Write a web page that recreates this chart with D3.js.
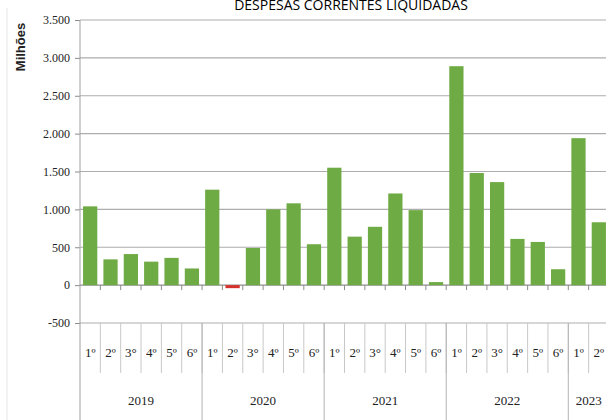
<!DOCTYPE html>
<html>
    <head>
        <title>Despesas correntes liquidadas</title>
        <script src="https://d3js.org/d3.v7.min.js"></script>
    </head>
    <style>
        body {
            margin: 0;
            background: #fff;
        }
    </style>
    <body>
        <div id="chart"></div>

        <script>

            // Data
            const yearLabels = ["2019", "2020", "2021", "2022", "2023"];
            const yearSpans = [6, 6, 6, 6, 2];
            const periodLabels = [
                "1º", "2º", "3°", "4º", "5º", "6º",
                "1º", "2º", "3°", "4º", "5º", "6º",
                "1º", "2º", "3°", "4º", "5º", "6º",
                "1º", "2º", "3°", "4º", "5º", "6º",
                "1º", "2º"
            ];
            const values = [
                1040, 340, 410, 310, 360, 220,
                1260, -40, 490, 1000, 1080, 540,
                1550, 640, 770, 1210, 990, 40,
                2890, 1480, 1360, 610, 570, 210,
                1940, 830
            ];
            const yTicks = [-500, 0, 500, 1000, 1500, 2000, 2500, 3000, 3500];

            const width = 606, height = 420;
            const plotLeft = 80, plotRight = 609, plotTop = 20, plotBottom = 323;

            const svg = d3.select("#chart")
                .append("svg")
                .attr("width", width)
                .attr("height", height);

            const x = d3.scaleBand()
                .domain(d3.range(values.length))
                .range([plotLeft, plotRight])
                .paddingInner(0.3)
                .paddingOuter(0.15);

            const y = d3.scaleLinear()
                .domain([-500, 3500])
                .range([plotBottom, plotTop]);

            // Portuguese number format, plain hyphen for negatives
            const fmt = d3.formatLocale({ decimal: ",", thousands: ".", grouping: [3], currency: ["", ""], minus: "-" }).format(",d");

            // Gridlines
            svg.append("g")
                .selectAll("line")
                .data(yTicks)
                .join("line")
                .attr("x1", plotLeft)
                .attr("x2", width)
                .attr("y1", d => y(d))
                .attr("y2", d => y(d))
                .attr("stroke", d => d === 0 ? "#8c8c8c" : "#adadad")
                .attr("stroke-width", 1.2);

            // Y axis
            const yAxis = svg.append("g")
                .attr("transform", `translate(${plotLeft},0)`)
                .call(d3.axisLeft(y).tickValues(yTicks).tickFormat(fmt).tickSize(5).tickPadding(5));
            yAxis.select(".domain").remove();
            yAxis.selectAll(".tick line").attr("stroke", "#8c8c8c");
            yAxis.selectAll("text")
                .attr("font-family", "Liberation Serif, serif")
                .attr("font-size", 12)
                .attr("fill", "#222");

            // Left axis line runs down through the category area
            svg.append("line")
                .attr("x1", plotLeft).attr("x2", plotLeft)
                .attr("y1", plotTop).attr("y2", height)
                .attr("stroke", "#a0a0a0");

            // Faint outer border
            svg.append("line")
                .attr("x1", 7).attr("x2", 7)
                .attr("y1", 8).attr("y2", height)
                .attr("stroke", "#e6e6e6");

            const boundary = i => x(i) - x.step() * x.paddingInner() / 2;

            // Small ticks on the zero line
            svg.append("g")
                .selectAll("line")
                .data(d3.range(1, values.length))
                .join("line")
                .attr("x1", boundary)
                .attr("x2", boundary)
                .attr("y1", y(0))
                .attr("y2", y(0) + 5)
                .attr("stroke", "#8c8c8c");

            // Bars
            svg.append("g")
                .selectAll("rect")
                .data(values)
                .join("rect")
                .attr("x", (d, i) => x(i))
                .attr("width", x.bandwidth())
                .attr("y", d => y(Math.max(0, d)))
                .attr("height", d => Math.abs(y(d) - y(0)))
                .attr("fill", d => d < 0 ? "#d5302b" : "#6fab44");

            // Category separators (period level)
            svg.append("g")
                .selectAll("line")
                .data(d3.range(1, values.length))
                .join("line")
                .attr("x1", boundary)
                .attr("x2", boundary)
                .attr("y1", plotBottom)
                .attr("y2", plotBottom + 50)
                .attr("stroke", "#c8c8c8");

            // Year separators
            const yearStarts = yearSpans.map((s, k) => d3.sum(yearSpans.slice(0, k)));
            svg.append("g")
                .selectAll("line")
                .data(yearStarts.slice(1))
                .join("line")
                .attr("x1", boundary)
                .attr("x2", boundary)
                .attr("y1", plotBottom)
                .attr("y2", height)
                .attr("stroke", "#b4b4b4");

            // Period labels
            svg.append("g")
                .selectAll("text")
                .data(periodLabels)
                .join("text")
                .attr("x", (d, i) => x(i) + x.bandwidth() / 2)
                .attr("y", 357)
                .attr("text-anchor", "middle")
                .attr("font-family", "Liberation Serif, serif")
                .attr("font-size", 13)
                .attr("fill", "#222")
                .text(d => d);

            // Year labels
            svg.append("g")
                .selectAll("text")
                .data(yearLabels)
                .join("text")
                .attr("x", (d, k) => {
                    const a = boundary(yearStarts[k]);
                    const b = a + yearSpans[k] * x.step();
                    return (a + b) / 2;
                })
                .attr("y", 405)
                .attr("text-anchor", "middle")
                .attr("font-family", "Liberation Serif, serif")
                .attr("font-size", 13)
                .attr("fill", "#222")
                .text(d => d);

            // Y axis title
            svg.append("text")
                .attr("transform", "translate(25,47) rotate(-90)")
                .attr("text-anchor", "middle")
                .attr("font-family", "Liberation Sans, sans-serif")
                .attr("font-size", 13)
                .attr("font-weight", "bold")
                .attr("fill", "#222")
                .text("Milhões");

            // Title (sits at the very top edge, as in the source)
            svg.append("text")
                .attr("x", 351)
                .attr("y", 10)
                .attr("text-anchor", "middle")
                .attr("font-family", "Open Sans, sans-serif")
                .attr("font-size", 14)
                .attr("fill", "#000")
                .text("DESPESAS CORRENTES LIQUIDADAS");

        </script>
    </body>
</html>
